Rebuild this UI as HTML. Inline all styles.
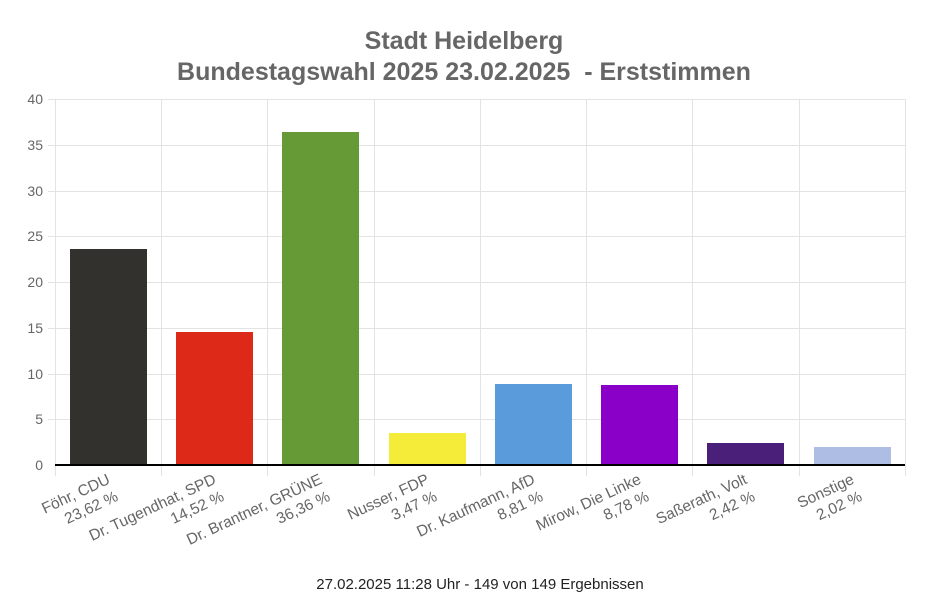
<!DOCTYPE html>
<html><head><meta charset="utf-8"><style>
html,body{margin:0;padding:0;background:#fff;width:935px;height:602px;overflow:hidden}
svg{display:block;font-family:"Liberation Sans",Arial,sans-serif}
</style></head><body>
<svg width="935" height="602" viewBox="0 0 935 602">
<text x="464" y="49" text-anchor="middle" font-size="25" font-weight="bold" fill="#666">Stadt Heidelberg</text>
<text x="464" y="80" text-anchor="middle" font-size="25" font-weight="bold" fill="#666" xml:space="preserve">Bundestagswahl 2025 23.02.2025  - Erststimmen</text>
<g stroke="#e3e3e3" stroke-width="1">
<line x1="48" y1="99.5" x2="905" y2="99.5"/>
<line x1="48" y1="145.5" x2="905" y2="145.5"/>
<line x1="48" y1="191.5" x2="905" y2="191.5"/>
<line x1="48" y1="236.5" x2="905" y2="236.5"/>
<line x1="48" y1="282.5" x2="905" y2="282.5"/>
<line x1="48" y1="328.5" x2="905" y2="328.5"/>
<line x1="48" y1="374.5" x2="905" y2="374.5"/>
<line x1="48" y1="419.5" x2="905" y2="419.5"/>
<line x1="55.5" y1="99" x2="55.5" y2="476"/>
<line x1="161.5" y1="99" x2="161.5" y2="476"/>
<line x1="267.5" y1="99" x2="267.5" y2="476"/>
<line x1="374.5" y1="99" x2="374.5" y2="476"/>
<line x1="480.5" y1="99" x2="480.5" y2="476"/>
<line x1="586.5" y1="99" x2="586.5" y2="476"/>
<line x1="692.5" y1="99" x2="692.5" y2="476"/>
<line x1="799.5" y1="99" x2="799.5" y2="476"/>
<line x1="905.5" y1="99" x2="905.5" y2="476"/>
</g>
<g font-size="14" fill="#666" text-anchor="end">
<text x="43" y="104">40</text><text x="43" y="150">35</text><text x="43" y="196">30</text>
<text x="43" y="241">25</text><text x="43" y="287">20</text><text x="43" y="333">15</text>
<text x="43" y="379">10</text><text x="43" y="424">5</text><text x="43" y="470">0</text>
</g>
<rect x="70" y="249" width="77" height="216" fill="#33312e"/>
<rect x="176" y="332" width="77" height="133" fill="#dc2918"/>
<rect x="282" y="132" width="77" height="333" fill="#659a37"/>
<rect x="389" y="433" width="77" height="32" fill="#f5ec3a"/>
<rect x="495" y="384" width="77" height="81" fill="#5a9bdc"/>
<rect x="601" y="385" width="77" height="80" fill="#8a00c8"/>
<rect x="707" y="443" width="77" height="22" fill="#4a1f7a"/>
<rect x="814" y="447" width="77" height="18" fill="#aebde3"/>
<line x1="55" y1="465" x2="905" y2="465" stroke="#000" stroke-width="2"/>
<g font-size="15.5" fill="#666" text-anchor="end">
<g transform="translate(106,472) rotate(-25)"><text y="12">Föhr, CDU</text><text y="31">23,62 %</text></g>
<g transform="translate(212,472) rotate(-25)"><text y="12">Dr. Tugendhat, SPD</text><text y="31">14,52 %</text></g>
<g transform="translate(318,472) rotate(-25)"><text y="12">Dr. Brantner, GRÜNE</text><text y="31">36,36 %</text></g>
<g transform="translate(425,472) rotate(-25)"><text y="12">Nusser, FDP</text><text y="31">3,47 %</text></g>
<g transform="translate(531,472) rotate(-25)"><text y="12">Dr. Kaufmann, AfD</text><text y="31">8,81 %</text></g>
<g transform="translate(637,472) rotate(-25)"><text y="12">Mirow, Die Linke</text><text y="31">8,78 %</text></g>
<g transform="translate(743,472) rotate(-25)"><text y="12">Saßerath, Volt</text><text y="31">2,42 %</text></g>
<g transform="translate(850,472) rotate(-25)"><text y="12">Sonstige</text><text y="31">2,02 %</text></g>
</g>
<text x="480" y="589" text-anchor="middle" font-size="15" fill="#222">27.02.2025 11:28 Uhr - 149 von 149 Ergebnissen</text>
</svg>
</body></html>
